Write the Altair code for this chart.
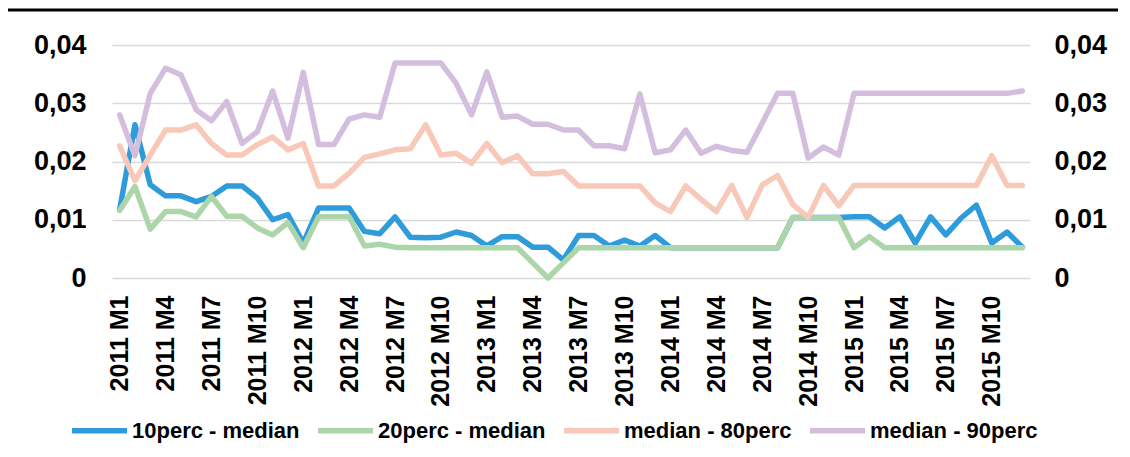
import altair as alt
import pandas as pd

months = [f"{y} M{m}" for y in range(2011, 2016) for m in range(1, 13)]
x_ticks = months[::3]

series_names = ["10perc - median", "20perc - median", "median - 80perc", "median - 90perc"]
colors = ["#2E9BDB", "#ACD6AA", "#F8C8B8", "#D3BEDE"]

p10 = [0.0117, 0.0263, 0.0160, 0.0141, 0.0141, 0.0131, 0.0140, 0.0158, 0.0158, 0.0137,
       0.0100, 0.0109, 0.0060, 0.0120, 0.0120, 0.0120, 0.0080, 0.0076, 0.0105, 0.0070,
       0.0069, 0.0070, 0.0079, 0.0073, 0.0055, 0.0071, 0.0071, 0.0053, 0.0053, 0.0031,
       0.0073, 0.0073, 0.0055, 0.0065, 0.0055, 0.0073, 0.0052, 0.0052, 0.0052, 0.0052,
       0.0052, 0.0052, 0.0052, 0.0052, 0.0104, 0.0104, 0.0104, 0.0104, 0.0105, 0.0105,
       0.0086, 0.0105, 0.0060, 0.0105, 0.0074, 0.0103, 0.0125, 0.0060, 0.0079, 0.0053]

p20 = [0.0116, 0.0157, 0.0084, 0.0114, 0.0114, 0.0105, 0.0140, 0.0106, 0.0106, 0.0086,
       0.0074, 0.0095, 0.0052, 0.0105, 0.0105, 0.0105, 0.0055, 0.0058, 0.0053, 0.0052,
       0.0052, 0.0052, 0.0052, 0.0052, 0.0052, 0.0052, 0.0052, 0.0026, 0.0000, 0.0026,
       0.0052, 0.0052, 0.0052, 0.0052, 0.0052, 0.0052, 0.0052, 0.0052, 0.0052, 0.0052,
       0.0052, 0.0052, 0.0052, 0.0052, 0.0104, 0.0104, 0.0104, 0.0104, 0.0052, 0.0071,
       0.0052, 0.0052, 0.0052, 0.0052, 0.0052, 0.0052, 0.0052, 0.0052, 0.0052, 0.0052]

p80 = [0.0227, 0.0167, 0.0211, 0.0254, 0.0254, 0.0263, 0.0231, 0.0211, 0.0211, 0.0229,
       0.0242, 0.0220, 0.0231, 0.0158, 0.0158, 0.0180, 0.0207, 0.0213, 0.0220, 0.0222,
       0.0263, 0.0211, 0.0214, 0.0197, 0.0231, 0.0198, 0.0210, 0.0179, 0.0179, 0.0183,
       0.0158, 0.0158, 0.0158, 0.0158, 0.0158, 0.0129, 0.0114, 0.0158, 0.0135, 0.0114,
       0.0159, 0.0104, 0.0160, 0.0176, 0.0126, 0.0104, 0.0159, 0.0124, 0.0159, 0.0159,
       0.0159, 0.0159, 0.0159, 0.0159, 0.0159, 0.0159, 0.0159, 0.0210, 0.0159, 0.0159]

p90 = [0.0280, 0.0210, 0.0317, 0.0360, 0.0349, 0.0289, 0.0270, 0.0303, 0.0231, 0.0251,
       0.0321, 0.0240, 0.0353, 0.0229, 0.0229, 0.0273, 0.0280, 0.0276, 0.0369, 0.0369,
       0.0369, 0.0369, 0.0334, 0.0280, 0.0354, 0.0276, 0.0278, 0.0264, 0.0264, 0.0254,
       0.0254, 0.0227, 0.0227, 0.0222, 0.0316, 0.0215, 0.0220, 0.0254, 0.0214, 0.0226,
       0.0219, 0.0216, 0.0266, 0.0317, 0.0317, 0.0206, 0.0225, 0.0211, 0.0317, 0.0317,
       0.0317, 0.0317, 0.0317, 0.0317, 0.0317, 0.0317, 0.0317, 0.0317, 0.0317, 0.0321]

rows = []
for name, vals in zip(series_names, [p10, p20, p80, p90]):
    for m, v in zip(months, vals):
        rows.append({"month": m, "series": name, "value": v})
df = pd.DataFrame(rows)

FONT = "Liberation Sans"
y_ticks = [0, 0.01, 0.02, 0.03, 0.04]
lab_expr = "datum.value == 0 ? '0' : replace(format(datum.value, '.2f'), '.', ',')"

x_enc = alt.X("month:N", sort=months,
              scale=alt.Scale(type="point", padding=0.5),
              axis=alt.Axis(values=x_ticks, labelAngle=-90, labelAlign="right",
                            labelBaseline="middle", labelPadding=17, domain=False,
                            ticks=False, grid=False, title=None, labelFont=FONT,
                            labelFontSize=25, labelFontWeight="bold", labelColor="black",
                            labelOverlap=False))

lines = alt.Chart(df).mark_line(strokeWidth=5.5, strokeCap="round", strokeJoin="round").encode(
    x=x_enc,
    y=alt.Y("value:Q", scale=alt.Scale(domain=[0, 0.04], nice=False, zero=True),
            axis=alt.Axis(values=y_ticks, labelExpr=lab_expr, orient="left", grid=True,
                          gridColor="#d9d9d9", gridWidth=1.6, domain=False, ticks=False,
                          labelPadding=26, title=None, labelFont=FONT, labelFontSize=27,
                          labelFontWeight="bold", labelColor="black")),
    color=alt.Color("series:N", sort=series_names,
                    scale=alt.Scale(domain=series_names, range=colors),
                    legend=alt.Legend(title=None, orient="none", legendX=-43, legendY=355,
                                      direction="horizontal", symbolType="stroke",
                                      symbolSize=3025, symbolStrokeWidth=5.5,
                                      labelFont=FONT, labelFontSize=22,
                                      labelFontWeight="bold", labelColor="black",
                                      labelOffset=2, columnPadding=7, labelLimit=400)),
    order=alt.Order("series:N"),
)

right = alt.Chart(df).mark_line(opacity=0).encode(
    x=x_enc,
    y=alt.Y("value:Q", scale=alt.Scale(domain=[0, 0.04], nice=False, zero=True),
            axis=alt.Axis(values=y_ticks, labelExpr=lab_expr, orient="right", grid=False,
                          domain=False, ticks=False, labelPadding=24, title=None,
                          labelFont=FONT, labelFontSize=27, labelFontWeight="bold",
                          labelColor="black", labelAlign="left")),
    detail="series:N",
)

top_rule = alt.Chart(pd.DataFrame({"a": [0]})).mark_rule(color="black", strokeWidth=3).encode(
    x=alt.value(-109), x2=alt.value(1015), y=alt.value(-35)
)

chart = alt.layer(lines, right, top_rule).resolve_scale(y="independent").properties(
    width=918, height=233,
    autosize=alt.AutoSizeParams(type="none"),
    padding={"left": 104, "top": 37, "right": 88, "bottom": 171},
).configure_view(stroke=None)

chart.save("out.html", embed_options={"renderer": "svg", "actions": False})
